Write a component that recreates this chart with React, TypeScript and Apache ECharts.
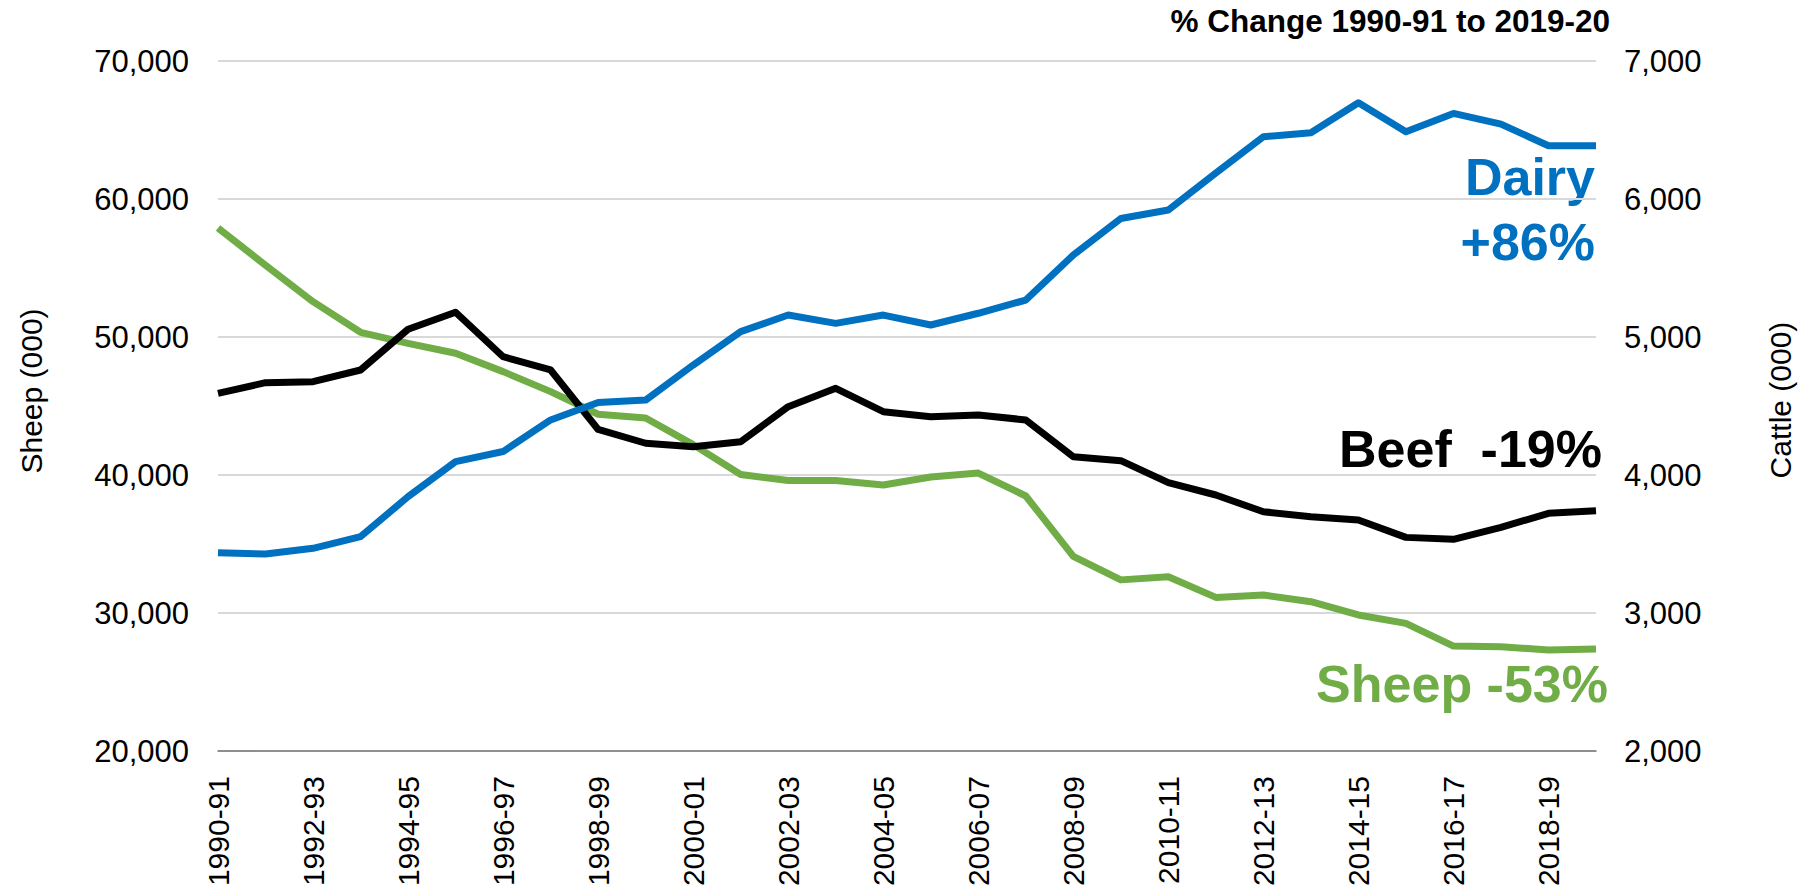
import React, { useEffect, useRef } from "react";
import * as echarts from "echarts";

const categories = [
  "1990-91", "1991-92", "1992-93", "1993-94", "1994-95", "1995-96", "1996-97", "1997-98",
  "1998-99", "1999-00", "2000-01", "2001-02", "2002-03", "2003-04", "2004-05", "2005-06",
  "2006-07", "2007-08", "2008-09", "2009-10", "2010-11", "2011-12", "2012-13", "2013-14",
  "2014-15", "2015-16", "2016-17", "2017-18", "2018-19", "2019-20",
];

const sheep = [
  57900, 55200, 52560, 50340, 49540, 48820, 47490, 46040, 44400, 44130,
  42200, 40040, 39600, 39600, 39280, 39860, 40140, 38480, 34100, 32400,
  32630, 31130, 31300, 30820, 29860, 29250, 27600, 27560, 27320, 27390,
];

const beef = [
  4592, 4669, 4676, 4761, 5056, 5179, 4857, 4761, 4330, 4230,
  4205, 4241, 4495, 4628, 4459, 4422, 4435, 4399, 4133, 4104,
  3945, 3855, 3734, 3698, 3674, 3548, 3534, 3621, 3722, 3741,
];

const dairy = [
  3437, 3428, 3469, 3553, 3843, 4097, 4170, 4399, 4525, 4543,
  4797, 5039, 5159, 5099, 5159, 5087, 5172, 5268, 5594, 5859,
  5920, 6188, 6451, 6480, 6698, 6487, 6620, 6543, 6386, 6386,
];

const leftTicks = { min: 20000, max: 70000, interval: 10000 };
const rightTicks = { min: 2000, max: 7000, interval: 1000 };

const FONT = "'Liberation Sans', Arial, Helvetica, sans-serif";
const BLUE = "#0070C0";
const GREEN = "#70AD47";
const BLACK = "#000000";

const fmt = (v: number) => v.toLocaleString("en-US");

export default function App() {
  const ref = useRef<HTMLDivElement>(null);

  useEffect(() => {
    if (!ref.current) return;
    const chart = echarts.init(ref.current, undefined, { renderer: "svg" });
    chart.setOption({
      animation: false,
      backgroundColor: "#ffffff",
      textStyle: { fontFamily: FONT },
      grid: { left: 218, right: 202, top: 61, bottom: 139, containLabel: false },
      xAxis: {
        type: "category",
        data: categories,
        boundaryGap: false,
        axisLine: { show: true, lineStyle: { color: "#767676", width: 1.5 } },
        axisTick: { show: false },
        splitLine: { show: false },
        axisLabel: {
          interval: 1,
          rotate: 90,
          margin: 25,
          fontSize: 30,
          color: "#000000",
          fontFamily: FONT,
        },
      },
      yAxis: [
        {
          type: "value",
          min: leftTicks.min,
          max: leftTicks.max,
          interval: leftTicks.interval,
          axisLine: { show: false },
          axisTick: { show: false },
          splitLine: { show: true, lineStyle: { color: "#D9D9D9", width: 2 } },
          axisLabel: {
            formatter: (v: number) => fmt(v),
            fontSize: 31,
            margin: 29,
            color: "#000000",
            fontFamily: FONT,
          },
        },
        {
          type: "value",
          position: "right",
          min: rightTicks.min,
          max: rightTicks.max,
          interval: rightTicks.interval,
          axisLine: { show: false },
          axisTick: { show: false },
          splitLine: { show: false },
          axisLabel: {
            formatter: (v: number) => fmt(v),
            fontSize: 31,
            margin: 28,
            color: "#000000",
            fontFamily: FONT,
          },
        },
      ],
      series: [
        {
          name: "Sheep",
          type: "line",
          yAxisIndex: 0,
          data: sheep,
          symbol: "none",
          lineStyle: { color: GREEN, width: 7, join: "round" },
          itemStyle: { color: GREEN },
          z: 2,
        },
        {
          name: "Beef",
          type: "line",
          yAxisIndex: 1,
          data: beef,
          symbol: "none",
          lineStyle: { color: BLACK, width: 7, join: "round" },
          itemStyle: { color: BLACK },
          z: 3,
        },
        {
          name: "Dairy",
          type: "line",
          yAxisIndex: 1,
          data: dairy,
          symbol: "none",
          lineStyle: { color: BLUE, width: 7, join: "round" },
          itemStyle: { color: BLUE },
          z: 4,
        },
      ],
      graphic: [
        {
          type: "text",
          x: 1610,
          y: 21,
          style: {
            text: "% Change 1990-91 to 2019-20",
            fontSize: 31.5,
            fontWeight: "bold",
            fontFamily: FONT,
            fill: "#000000",
            align: "right",
            verticalAlign: "middle",
          },
        },
        {
          type: "text",
          x: 1595,
          y: 177,
          style: {
            text: "Dairy",
            fontSize: 52,
            fontWeight: "bold",
            fontFamily: FONT,
            fill: BLUE,
            align: "right",
            verticalAlign: "middle",
          },
        },
        {
          type: "text",
          x: 1595,
          y: 242,
          style: {
            text: "+86%",
            fontSize: 52,
            fontWeight: "bold",
            fontFamily: FONT,
            fill: BLUE,
            align: "right",
            verticalAlign: "middle",
          },
        },
        {
          type: "text",
          x: 1602,
          y: 449,
          style: {
            text: "Beef  -19%",
            fontSize: 52,
            fontWeight: "bold",
            fontFamily: FONT,
            fill: BLACK,
            align: "right",
            verticalAlign: "middle",
          },
        },
        {
          type: "text",
          x: 1608,
          y: 684,
          style: {
            text: "Sheep -53%",
            fontSize: 52,
            fontWeight: "bold",
            fontFamily: FONT,
            fill: GREEN,
            align: "right",
            verticalAlign: "middle",
          },
        },
        {
          type: "text",
          x: 31,
          y: 391,
          rotation: Math.PI / 2,
          style: {
            text: "Sheep (000)",
            fontSize: 30,
            fontFamily: FONT,
            fill: "#000000",
            align: "center",
            verticalAlign: "middle",
          },
        },
        {
          type: "text",
          x: 1780,
          y: 400,
          rotation: Math.PI / 2,
          style: {
            text: "Cattle (000)",
            fontSize: 30,
            fontFamily: FONT,
            fill: "#000000",
            align: "center",
            verticalAlign: "middle",
          },
        },
      ],
    });
    return () => chart.dispose();
  }, []);

  return (
    <div
      ref={ref}
      style={{ position: "fixed", left: 0, top: 0, width: 1798, height: 890, background: "#fff" }}
    />
  );
}
